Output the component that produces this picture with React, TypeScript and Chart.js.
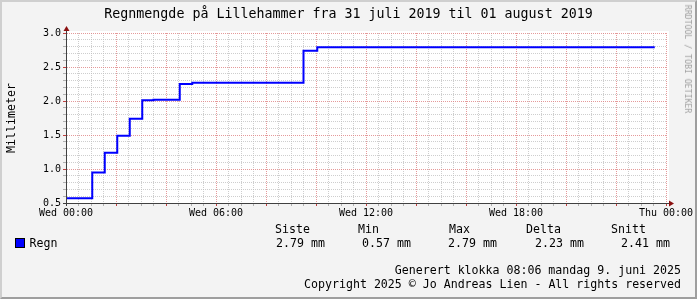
import React, { useEffect, useRef } from 'react';
import { Chart, registerables } from 'chart.js';

Chart.register(...registerables);

const FONT = '"DejaVu Sans Mono", monospace';

const titleText = 'Regnmengde på Lillehammer fra 31 juli 2019 til 01 august 2019';
const yTitle = 'Millimeter';
const watermark = 'RRDTOOL / TOBI OETIKER';

// hours after Wed 00:00 where the accumulated value changes
const hours = [0, 1.05, 1.55, 2.05, 2.55, 3.05, 3.5, 4.55, 5.05, 9.5, 10.05, 23.55];
const rain = [0.57, 0.95, 1.24, 1.49, 1.74, 2.01, 2.02, 2.25, 2.27, 2.74, 2.79, 2.79];

const xTickLabels = ['Wed 00:00', 'Wed 06:00', 'Wed 12:00', 'Wed 18:00', 'Thu 00:00'];

const seriesName = 'Regn';
const statLabels = ['Siste', 'Min', 'Max', 'Delta', 'Snitt'];
const statValues = ['2.79 mm', '0.57 mm', '2.79 mm', '2.23 mm', '2.41 mm'];
const footer1 = 'Generert klokka 08:06 mandag 9. juni 2025';
const footer2 = 'Copyright 2025 © Jo Andreas Lien - All rights reserved';

// layout (positions only)
const statLabelX = [275, 358, 449, 526, 611];
const statValueX = [276, 362, 448, 535, 621];

const MAJOR = 'rgba(220,120,120,0.75)';
const MINOR = 'rgba(190,190,190,0.75)';

const isMult = (v: number, m: number) => Math.abs(v / m - Math.round(v / m)) < 1e-6;

const rrdPlugin = {
  id: 'rrdDeco',
  beforeDraw(chart: any) {
    const { ctx, chartArea: a, width, height } = chart;
    ctx.save();
    ctx.fillStyle = '#f3f3f3';
    ctx.fillRect(0, 0, width, height);
    ctx.fillStyle = '#ffffff';
    ctx.fillRect(a.left, a.top - 2, a.right - a.left + 3, a.bottom - a.top + 2);
    ctx.restore();
  },
  afterDraw(chart: any) {
    const { ctx, chartArea: a } = chart;
    ctx.save();
    ctx.strokeStyle = '#404040';
    ctx.lineWidth = 1;
    ctx.beginPath();
    ctx.moveTo(a.left + 0.5, a.bottom + 3);
    ctx.lineTo(a.left + 0.5, a.top - 4);
    ctx.moveTo(a.left - 3, a.bottom + 0.5);
    ctx.lineTo(a.right + 4, a.bottom + 0.5);
    ctx.stroke();
    ctx.fillStyle = '#8b1010';
    ctx.beginPath();
    ctx.moveTo(a.left + 0.5, a.top - 7);
    ctx.lineTo(a.left - 2.5, a.top - 2);
    ctx.lineTo(a.left + 3.5, a.top - 2);
    ctx.closePath();
    ctx.fill();
    ctx.beginPath();
    ctx.moveTo(a.right + 8, a.bottom + 0.5);
    ctx.lineTo(a.right + 3, a.bottom - 2.5);
    ctx.lineTo(a.right + 3, a.bottom + 3.5);
    ctx.closePath();
    ctx.fill();
    ctx.restore();
  },
};

export default function App() {
  const ref = useRef<HTMLCanvasElement>(null);

  useEffect(() => {
    const data = hours.map((h, i) => ({ x: h, y: rain[i] }));
    const chart = new Chart(ref.current as HTMLCanvasElement, {
      type: 'line',
      data: {
        datasets: [
          {
            label: seriesName,
            data,
            borderColor: '#0000ff',
            backgroundColor: '#0000ff',
            borderWidth: 2,
            pointRadius: 0,
            stepped: true,
            fill: false,
          },
        ],
      },
      options: {
        responsive: false,
        animation: false,
        devicePixelRatio: 1,
        layout: { padding: { top: 33, right: 31, bottom: 0, left: 0 } },
        plugins: {
          legend: { display: false },
          tooltip: { enabled: false },
          title: { display: false },
        },
        scales: {
          x: {
            type: 'linear',
            min: 0,
            max: 24,
            afterFit: (s: any) => {
              s.height = 96;
            },
            ticks: {
              stepSize: 0.5,
              autoSkip: false,
              maxRotation: 0,
              minRotation: 0,
              padding: 1,
              color: '#000',
              font: { family: FONT, size: 10 },
              callback: (v: any) => {
                const n = Number(v);
                return isMult(n, 6) ? xTickLabels[Math.round(n / 6)] : '';
              },
            },
            grid: {
              color: (c: any) => (c.tick && isMult(c.tick.value, 2) ? MAJOR : MINOR),
              tickColor: (c: any) => (c.tick && isMult(c.tick.value, 2) ? '#c04040' : '#b0b0b0'),
              tickLength: 3,
              lineWidth: 1,
            },
            border: { display: true, color: '#404040', dash: [1, 1] },
          },
          y: {
            type: 'linear',
            min: 0.5,
            max: 3.0,
            afterFit: (s: any) => {
              s.width = 66;
            },
            ticks: {
              stepSize: 0.1,
              autoSkip: false,
              padding: 2,
              color: '#000',
              font: { family: FONT, size: 10 },
              callback: (v: any) => {
                const t = Math.round(Number(v) * 10);
                return t % 5 === 0 ? (t / 10).toFixed(1) : '';
              },
            },
            grid: {
              color: (c: any) => (c.tick && Math.round(c.tick.value * 10) % 5 === 0 ? MAJOR : MINOR),
              tickColor: (c: any) => (c.tick && Math.round(c.tick.value * 10) % 5 === 0 ? '#c04040' : '#b0b0b0'),
              tickLength: 3,
              lineWidth: 1,
            },
            border: { display: true, color: '#404040', dash: [1, 1] },
          },
        },
      },
      plugins: [rrdPlugin],
    } as any);
    return () => chart.destroy();
  }, []);

  const txt = (size: number): React.CSSProperties => ({
    position: 'absolute',
    whiteSpace: 'pre',
    fontFamily: FONT,
    fontSize: size,
    lineHeight: '14px',
    color: '#000',
  });

  return (
    <div
      style={{
        position: 'fixed',
        left: 0,
        top: 0,
        width: 697,
        height: 299,
        background: '#f3f3f3',
        overflow: 'hidden',
      }}
    >
      <canvas
        ref={ref}
        width={697}
        height={299}
        style={{ position: 'absolute', left: 0, top: 0, width: 697, height: 299 }}
      />
      <div style={{ ...txt(13.3), lineHeight: '16px', left: 0, top: 6, width: 697, textAlign: 'center' }}>
        {titleText}
      </div>
      <div
        style={{
          ...txt(11.6),
          left: 11,
          top: 118,
          transform: 'translate(-50%, -50%) rotate(-90deg)',
        }}
      >
        {yTitle}
      </div>
      <div
        style={{
          ...txt(8.2),
          lineHeight: '10px',
          left: 688,
          top: 59,
          color: '#a0a0a0',
          transform: 'translate(-50%, -50%) rotate(90deg)',
        }}
      >
        {watermark}
      </div>
      <div
        style={{
          position: 'absolute',
          left: 15,
          top: 238,
          width: 8,
          height: 8,
          border: '1px solid #000',
          background: '#0000ff',
        }}
      />
      <div style={{ ...txt(11.6), left: 29.5, top: 235.7 }}>{seriesName}</div>
      {statLabels.map((s, i) => (
        <div key={'l' + i} style={{ ...txt(11.6), left: statLabelX[i], top: 221.7 }}>
          {s}
        </div>
      ))}
      {statValues.map((s, i) => (
        <div key={'v' + i} style={{ ...txt(11.6), left: statValueX[i], top: 235.7 }}>
          {s}
        </div>
      ))}
      <div style={{ ...txt(11.6), left: 0, width: 681, textAlign: 'right', top: 263 }}>{footer1}</div>
      <div style={{ ...txt(11.6), left: 0, width: 681, textAlign: 'right', top: 277.3 }}>{footer2}</div>
      <div
        style={{
          position: 'absolute',
          left: 0,
          top: 0,
          width: 697,
          height: 299,
          boxSizing: 'border-box',
          borderTop: '2px solid #cfcfcf',
          borderLeft: '2px solid #cfcfcf',
          borderRight: '2px solid #9e9e9e',
          borderBottom: '2px solid #9e9e9e',
          pointerEvents: 'none',
        }}
      />
    </div>
  );
}
